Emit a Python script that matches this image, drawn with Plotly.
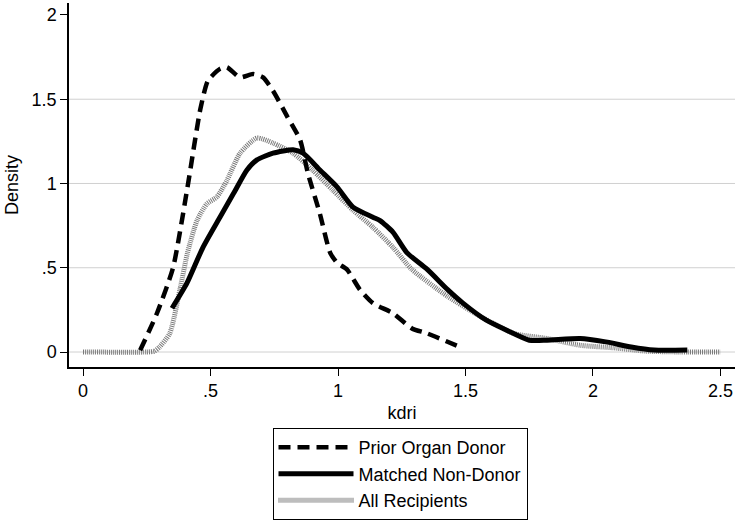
import plotly.graph_objects as go

# Prior Organ Donor
prior_x = [0.224, 0.29, 0.353, 0.41, 0.46, 0.49, 0.537, 0.564, 0.615, 0.667, 0.706, 0.745, 0.80,
           0.851, 0.882, 0.929, 0.969, 0.996, 1.035, 1.086, 1.137, 1.216, 1.29, 1.35, 1.478]
prior_y = [0.01, 0.23, 0.50, 0.98, 1.44, 1.61, 1.68, 1.69, 1.63, 1.65, 1.63, 1.55, 1.40,
           1.26, 1.06, 0.82, 0.59, 0.53, 0.49, 0.37, 0.29, 0.23, 0.14, 0.11, 0.03]

# Matched Non-Donor
matched_x = [0.349, 0.408, 0.47, 0.537, 0.59, 0.643, 0.682, 0.745, 0.824, 0.863, 0.929, 0.996,
             1.059, 1.137, 1.165, 1.216, 1.27, 1.35, 1.43, 1.49, 1.58, 1.66, 1.75, 1.82, 1.95,
             2.05, 2.15, 2.24, 2.37]
matched_y = [0.26, 0.41, 0.62, 0.80, 0.94, 1.08, 1.14, 1.18, 1.20, 1.18, 1.08, 0.98,
             0.86, 0.80, 0.78, 0.71, 0.59, 0.49, 0.37, 0.29, 0.19, 0.13, 0.07, 0.07, 0.08,
             0.06, 0.03, 0.012, 0.012]

# All Recipients
all_x = [0.0, 0.25, 0.28, 0.30, 0.34, 0.38, 0.41, 0.447, 0.486, 0.525, 0.565, 0.616, 0.682, 0.745,
         0.824, 0.90, 0.98, 1.06, 1.137, 1.216, 1.29, 1.43, 1.56, 1.69, 1.82, 1.95, 2.08,
         2.21, 2.35, 2.5]
all_y = [0.0, 0.0, 0.005, 0.03, 0.11, 0.37, 0.59, 0.78, 0.88, 0.92, 1.02, 1.18, 1.27, 1.24,
         1.18, 1.08, 0.96, 0.84, 0.74, 0.62, 0.49, 0.33, 0.21, 0.11, 0.08, 0.04, 0.025,
         0.005, 0.0, 0.0]

x_ticks = [0, 0.5, 1, 1.5, 2, 2.5]
x_labels = ["0", ".5", "1", "1.5", "2", "2.5"]
y_ticks = [0, 0.5, 1, 1.5, 2]
y_labels = ["0", ".5", "1", "1.5", "2"]
grid_vals = [0, 0.5, 1, 1.5]

FONT = "Liberation Sans, Arial, sans-serif"

fig = go.Figure()
fig.add_trace(go.Scatter(x=all_x, y=all_y, mode="lines", name="All Recipients",
                         line=dict(color="#7a7a7a", width=5, dash="1px,1px", shape="spline", smoothing=0.6)))
fig.add_trace(go.Scatter(x=matched_x, y=matched_y, mode="lines", name="Matched Non-Donor",
                         line=dict(color="black", width=5, shape="spline", smoothing=0.6)))
fig.add_trace(go.Scatter(x=prior_x, y=prior_y, mode="lines", name="Prior Organ Donor",
                         line=dict(color="black", width=4.5, dash="12px,7px", shape="spline", smoothing=0.6)))

for g in grid_vals:
    fig.add_shape(type="line", xref="paper", x0=0, x1=1, yref="y", y0=g, y1=g,
                  line=dict(color="#d0d0d0", width=1), layer="below")

fig.update_layout(
    width=737, height=523,
    margin=dict(l=69, r=2, t=3, b=156),
    paper_bgcolor="white", plot_bgcolor="white",
    font=dict(family=FONT, size=18, color="black"),
    showlegend=True,
    legend=dict(x=0.497, xanchor="center", y=-0.168, yanchor="top",
                traceorder="reversed", bordercolor="black", borderwidth=1,
                bgcolor="white", font=dict(family=FONT, size=18), itemwidth=75,
                tracegroupgap=0),
    xaxis=dict(range=[-0.055, 2.557], tickvals=x_ticks, ticktext=x_labels, automargin=False,
               showgrid=False, zeroline=False, showline=True, linecolor="black", linewidth=1.5,
               ticks="outside", ticklen=7, tickwidth=1.2, tickcolor="black",
               title=dict(text="kdri", standoff=6, font=dict(size=18))),
    yaxis=dict(range=[-0.089, 2.071], tickvals=y_ticks, ticktext=y_labels, automargin=False,
               showgrid=False, zeroline=False, showline=True, linecolor="black", linewidth=1.5,
               ticks="outside", ticklen=7, tickwidth=1.2, tickcolor="black",
               title=dict(text="Density", standoff=8, font=dict(size=18))),
)

fig.write_html("out.html", config={"displayModeBar": False},
               post_script="document.body.style.margin='0';document.body.style.overflow='hidden';")
